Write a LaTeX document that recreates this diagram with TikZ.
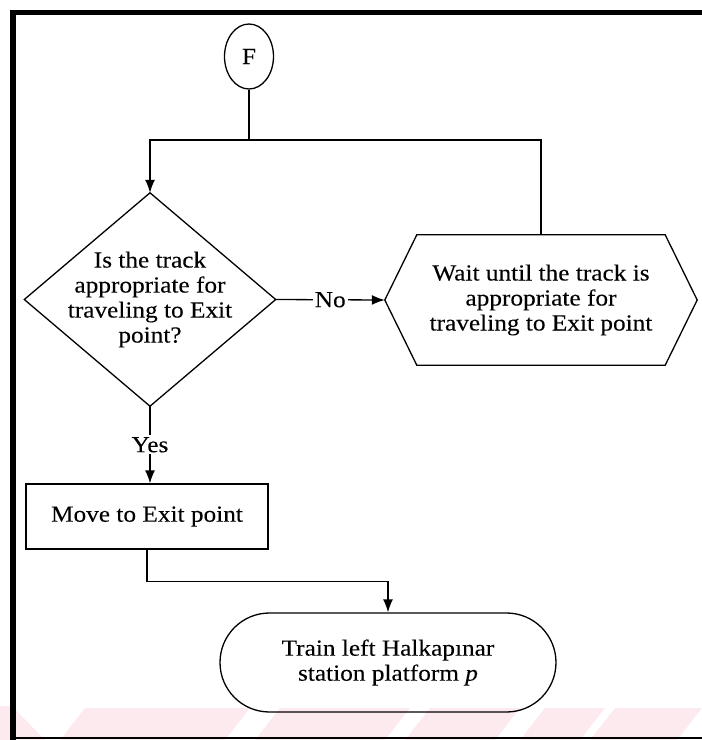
\documentclass[tikz,border=0pt]{standalone}
\usepackage{fontspec}
\setmainfont{Liberation Serif}[FakeStretch=1.1,FakeBold=0.12]
\usetikzlibrary{arrows.meta,shapes.geometric,calc}
\definecolor{wmpink}{RGB}{253,234,239}

\begin{document}
\begin{tikzpicture}[x=1pt,y=-1pt,
  every node/.style={font=\fontsize{23}{25}\selectfont},
  flow/.style={line width=1.3pt, draw=black},
  arr/.style={flow, -{Latex[length=13pt,width=10pt]}},
  plain/.style={inner sep=0pt, align=center},
  tag/.style={fill=white, inner sep=2pt},
  stripe/.style={fill=wmpink, draw=none},
]
\useasboundingbox (0,0) rectangle (702,740);

% faint stripes along the lower edge
\fill[stripe] (0,706) -- (12,706) -- (45,740) -- (0,740) -- cycle;
\foreach \a/\b in {85/250, 280/410, 430/520, 545/605, 615/702}
  \fill[stripe] (\a,708) -- (\b,708) -- (\b-25,740) -- (\a-25,740) -- cycle;

% page frame
\fill (10,10) rectangle (702,15);
\fill (10,10) rectangle (16,740);
\draw[line width=2pt] (10,738) -- (702,738);

% shapes
\node[ellipse, draw, line width=1.3pt, minimum width=49pt, minimum height=65pt, inner sep=0pt] (F) at (249,56.5) {F};
\coordinate (split) at (249,140);

\node[plain, minimum width=251pt, minimum height=213pt] (dec) at (150,299.5)
  {Is the track\\appropriate for\\traveling to Exit\\point?};
\draw[flow] (dec.north) -- (dec.east) -- (dec.south) -- (dec.west) -- cycle;

\node[plain, minimum width=312pt, minimum height=130pt] (hex) at (541,300)
  {Wait until the track is\\appropriate for\\traveling to Exit point};
\draw[flow] (hex.west) -- ($(hex.north west)+(32,0)$) -- ($(hex.north east)+(-32,0)$)
  -- (hex.east) -- ($(hex.south east)+(-32,0)$) -- ($(hex.south west)+(32,0)$) -- cycle;

\node[draw, line width=1.3pt, minimum width=242pt, minimum height=65pt] (move) at (147,516.5)
  {Move to Exit point};

\node[draw, line width=1.3pt, rounded corners=49.5pt, minimum width=336pt, minimum height=99pt, align=center] (term) at (388,662.5)
  {Train left Halkapınar\\station platform \textit{p}};

% connectors
\draw[flow] (F.south) -- (split);
\draw[arr] (split) -| (dec.north);
\draw[flow] (split) -| (hex.north);
\draw[arr] (dec.east) -- node[tag] {No} (hex.west);
\draw[arr] (dec.south) -- node[tag] {Yes} (dec.south |- move.north);
\draw[arr] (move.south) -- ++(0,32) -| (term.north);
\end{tikzpicture}
\end{document}
